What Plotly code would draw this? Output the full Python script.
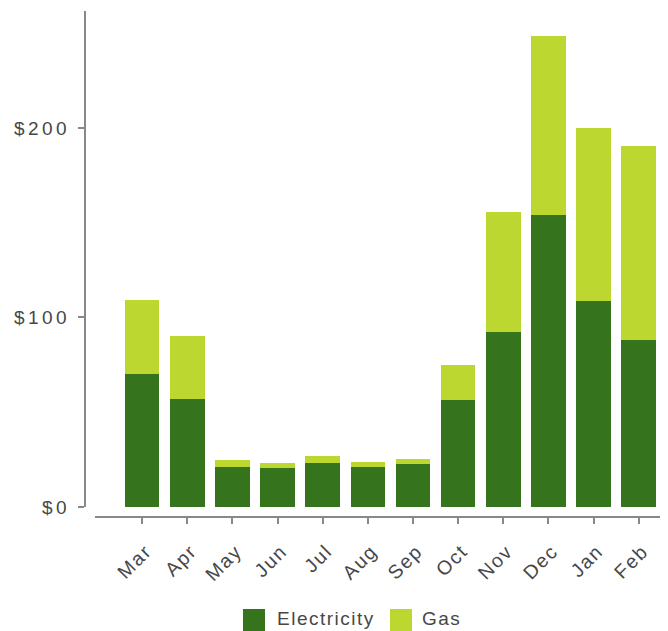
import plotly.graph_objects as go

months = ["Mar", "Apr", "May", "Jun", "Jul", "Aug", "Sep", "Oct", "Nov", "Dec", "Jan", "Feb"]
electricity = [70.2, 57.0, 21.1, 20.6, 23.2, 21.1, 22.7, 56.5, 92.3, 154.1, 108.7, 88.1]
gas = [39.0, 33.2, 3.7, 2.6, 3.7, 2.6, 2.6, 18.4, 63.4, 94.4, 91.3, 102.4]
y_ticks = [0, 100, 200]
y_tick_labels = ["$0", "$100", "$200"]

ELEC_COLOR = "#35741c"
GAS_COLOR = "#bdd731"
AXIS_COLOR = "#888888"
TEXT_COLOR = "#474747"
FONT = "Liberation Sans, Arial, sans-serif"

# the page body has an 8px margin; size the figure so it fits the window
OFF = 8
W, H = 668 - OFF, 631 - OFF
ML, MR, MT, MB = 85 - OFF, 0, 11 - OFF, 114
PW = W - ML - MR
PH = H - MT - MB


def spaced(s, sp):
    return "<span style='letter-spacing:%spx'>%s</span>" % (sp, s)


fig = go.Figure()
fig.add_trace(go.Bar(x=months, y=electricity, name="Electricity",
                     marker=dict(color=ELEC_COLOR, line=dict(width=0)),
                     showlegend=False))
fig.add_trace(go.Bar(x=months, y=gas, name="Gas",
                     marker=dict(color=GAS_COLOR, line=dict(width=0)),
                     showlegend=False))

fig.update_layout(
    width=W, height=H,
    margin=dict(l=ML, r=MR, t=MT, b=MB, pad=0, autoexpand=False),
    barmode="stack",
    bargap=0.234,
    plot_bgcolor="white",
    paper_bgcolor="white",
    font=dict(family=FONT, size=19, color=TEXT_COLOR),
    xaxis=dict(
        domain=[10 / PW, 1],
        anchor="free", position=0,
        range=[-1.043, 11.648],
        showline=True, linecolor=AXIS_COLOR, linewidth=2,
        ticks="outside", ticklen=6, tickwidth=2, tickcolor=AXIS_COLOR,
        tickangle=-45,
        tickmode="array",
        tickvals=months,
        ticktext=[spaced(m, 1.7) for m in months],
        showgrid=False, zeroline=False,
        ticklabelstandoff=8,
        ticklabelshift=4,
        tickfont=dict(family=FONT, size=19.5, color=TEXT_COLOR),
    ),
    yaxis=dict(
        domain=[10 / PH, 1],
        anchor="free", position=0,
        range=[0, 261.7],
        showline=True, linecolor=AXIS_COLOR, linewidth=2,
        ticks="outside", ticklen=6, tickwidth=2, tickcolor=AXIS_COLOR,
        tickmode="array",
        tickvals=y_ticks,
        ticktext=[spaced(t, 3.5) for t in y_tick_labels],
        showgrid=False, zeroline=False,
        ticklabelstandoff=4,
        tickfont=dict(family=FONT, size=19, color=TEXT_COLOR),
    ),
)


def px_x(px):
    return (px - OFF - ML) / PW


def px_y(py):
    return (H - MB - (py - OFF)) / PH


legend_items = [("Electricity", ELEC_COLOR, 243, 275), ("Gas", GAS_COLOR, 390, 420)]
for name, color, sx, tx in legend_items:
    fig.add_shape(type="rect", xref="paper", yref="paper",
                  x0=px_x(sx), x1=px_x(sx + 22), y0=px_y(631), y1=px_y(609),
                  fillcolor=color, line=dict(width=0))
    fig.add_annotation(xref="paper", yref="paper", x=px_x(tx), y=px_y(618.5),
                       xanchor="left", yanchor="middle", showarrow=False,
                       text=spaced(name, 1.5),
                       font=dict(family=FONT, size=19, color=TEXT_COLOR))

fig.write_html("out.html")
